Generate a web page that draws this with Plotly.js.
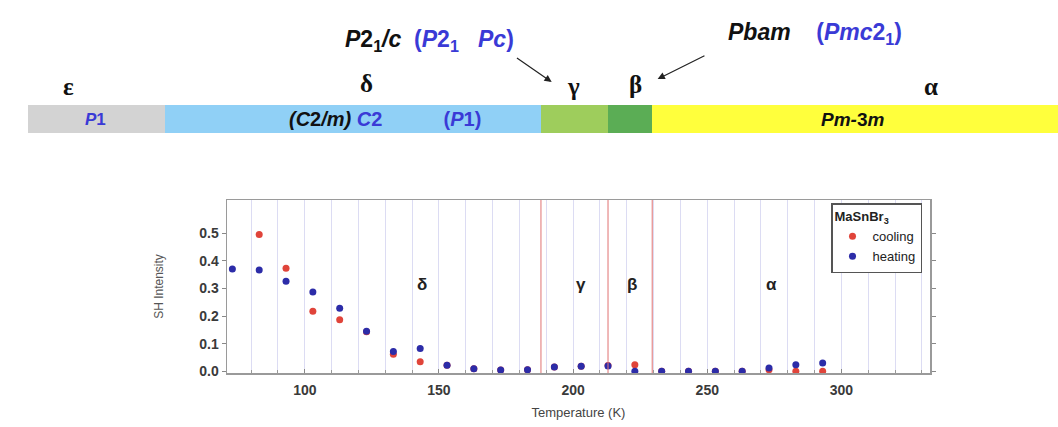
<!DOCTYPE html>
<html><head><meta charset="utf-8">
<script src="https://cdn.plot.ly/plotly-3.0.1.min.js"></script>
<style>html,body{margin:0;padding:0;background:#fff}#chart{width:1058px;height:427px}</style>
</head><body><div id="chart"></div>
<script>
// ---- data ----
const heatingT = [73,83,93,103,113,123,133,143,153,163,173,183,193,203,213,223,233,243,253,263,273,283,293];
const heatingSH = [0.370,0.367,0.326,0.287,0.228,0.145,0.072,0.083,0.022,0.009,0.005,0.006,0.016,0.018,0.019,0.000,0.000,0.000,0.000,0.000,0.012,0.024,0.030];
const coolingT = [83,93,103,113,123,133,143,153,163,173,183,193,203,213,223,233,243,253,263,273,283,293];
const coolingSH = [0.495,0.373,0.217,0.187,0.143,0.062,0.035,0.022,0.009,0.005,0.006,0.016,0.018,0.021,0.024,0.000,0.000,0.000,0.000,0.006,0.000,0.000];
const phaseNames = ['ε','δ','γ','β','α'];
const phaseStart = [-3, 48, 188, 213, 229.5];
const phaseEnd = [48, 188, 213, 229.5, 390];
const transitionT = [188, 213, 229.5];
const yTicks = [0.0,0.1,0.2,0.3,0.4,0.5];
const xTicks = [100,150,200,250,300];

// ---- styles ----
const phaseColors = ['#d3d3d3','#90d0f6','#9ecd5c','#5bad55','#ffff3c'];
const W = 1058, H = 427;
const xDom = [227/W, 930/W];
const yDom = [1-373/H, 1-200/H];
const xRange = [71, 333];
const span = xRange[1]-xRange[0], dw = xDom[1]-xDom[0];
const x2Range = [xRange[0]-span*xDom[0]/dw, xRange[1]+span*(1-xDom[1])/dw];
const blue = '#3a3ad6';
const sans = 'Liberation Sans, Arial, sans-serif';
const serif = 'Liberation Serif, DejaVu Serif, serif';

const traces = [
  {type:'scatter', mode:'markers', name:'cooling', x:coolingT, y:coolingSH,
   marker:{color:'#e0443a', size:7}, xaxis:'x', yaxis:'y', cliponaxis:false},
  {type:'scatter', mode:'markers', name:'heating', x:heatingT, y:heatingSH,
   marker:{color:'#2c2ca8', size:7}, xaxis:'x', yaxis:'y', cliponaxis:false},
  {type:'bar', orientation:'h', xaxis:'x2', yaxis:'y2', showlegend:false, hoverinfo:'skip',
   base:phaseStart, x:phaseEnd.map((e,i)=>e-phaseStart[i]), y:phaseNames.map(()=>119), width:28,
   marker:{color:phaseColors, line:{width:0}}}
];

const shapes = transitionT.map(t=>({type:'line', xref:'x', yref:'y domain', x0:t, x1:t, y0:0, y1:1,
  line:{color:'rgba(226,120,120,0.75)', width:1.4}}));

const ann = [];
function addTop(text, x, y, size, color, fam){
  ann.push({xref:'x2', yref:'y2', x:x, y:y, text:text, showarrow:false,
    font:{family:fam||sans, size:size, color:color||'#111'}, xanchor:'center', yanchor:'middle'});
}
const sp = '&nbsp;';
// greek letters above bar
const greekX = [12, 123, 200, 223.2, 333.5];
const greekY = [86, 83, 86, 84, 86];
phaseNames.forEach((n,i)=>addTop('<b>'+n+'</b>', greekX[i], greekY[i], 25, '#111', serif));
// labels in bar
addTop('<b><i>P</i>1</b>', 22, 119, 17, blue);
addTop('<b><i>(C</i>2<i>/m)</i></b> <span style="color:'+blue+'"><b><i>C</i>2</b>'+sp.repeat(11)+'<b>(<i>P</i>1)</b></span>', 130, 119, 20, '#111');
addTop('<b><i>Pm-</i>3<i>m</i></b>', 304, 119, 19, '#111');
addTop('<b><i>P</i>2<sub>1</sub><i>/c</i></b>'+sp.repeat(2)+'<span style="color:'+blue+'"><b>(<i>P</i>2<sub>1</sub>'+sp.repeat(3)+'<i>Pc</i>)</b></span>', 146.5, 40, 23, '#111');
addTop('<b><i>Pbam</i></b>'+sp.repeat(4)+'<span style="color:'+blue+'"><b>(<i>Pmc</i>2<sub>1</sub>)</b></span>', 290, 33, 23, '#111');
// arrows
ann.push({xref:'x2', yref:'y2', x:192, y:82, axref:'x2', ayref:'y2', ax:178.5, ay:57, text:'', showarrow:true,
  arrowhead:2, arrowsize:1.2, arrowwidth:1.2, arrowcolor:'#222'});
ann.push({xref:'x2', yref:'y2', x:231.5, y:79, axref:'x2', ayref:'y2', ax:249.5, ay:55, text:'', showarrow:true,
  arrowhead:2, arrowsize:1.2, arrowwidth:1.2, arrowcolor:'#222'});
// phase letters inside the plot
const inLetters = ['δ','γ','β','α'];
const inX = [143.6, 203, 221.8, 274];
inLetters.forEach((n,i)=>ann.push({xref:'x', yref:'y', x:inX[i], y:0.313, text:'<b>'+n+'</b>', showarrow:false,
  font:{family:sans, size:17, color:'#222'}}));

const axisFont = {family:sans, size:14, color:'#3a3a3a', weight:'bold'};
const layout = {
  width:W, height:H, margin:{l:0,r:0,t:0,b:0}, paper_bgcolor:'#fff', plot_bgcolor:'#fff',
  showlegend:true, bargap:0,
  xaxis:{domain:xDom, anchor:'y', range:xRange, tickvals:xTicks, ticks:'inside', ticklen:4, tickcolor:'#888',
    showgrid:true, gridcolor:'#dcdcf3', gridwidth:1, zeroline:false, showline:true, linecolor:'#9a9a9a', linewidth:1.5, mirror:true,
    minor:{dtick:10, tick0:0, showgrid:true, gridcolor:'#dcdcf3', ticks:'inside', ticklen:3, tickcolor:'#999'},
    tickfont:axisFont, ticklabelstandoff:4,
    title:{text:'Temperature (K)', font:{family:sans, size:13, color:'#444'}, standoff:10}},
  yaxis:{domain:yDom, anchor:'x', range:[-0.006,0.62], tickvals:yTicks, tickformat:'.1f', ticks:'outside', ticklen:4, tickcolor:'#888',
    showgrid:false, zeroline:false, showline:true, linecolor:'#9a9a9a', linewidth:1.5, mirror:'ticks',
    tickfont:axisFont,
    title:{text:'SH Intensity', font:{family:sans, size:12, color:'#555'}, standoff:33}},
  xaxis2:{domain:[0,1], anchor:'y2', range:x2Range, visible:false, fixedrange:true},
  yaxis2:{domain:[1-192/H,1], anchor:'x2', range:[192,0], visible:false, fixedrange:true},
  legend:{x:922/W, xanchor:'right', y:1-203/H, yanchor:'top', bgcolor:'#fff', bordercolor:'#555', borderwidth:1.5,
    font:{family:sans, size:13, color:'#222'}, itemwidth:30, tracegroupgap:0,
    title:{text:'<b>MaSnBr<sub>3</sub></b>', font:{family:sans, size:13, color:'#222'}}},
  shapes:shapes, annotations:ann
};
Plotly.newPlot('chart', traces, layout, {displayModeBar:false, staticPlot:true});
</script></body></html>
